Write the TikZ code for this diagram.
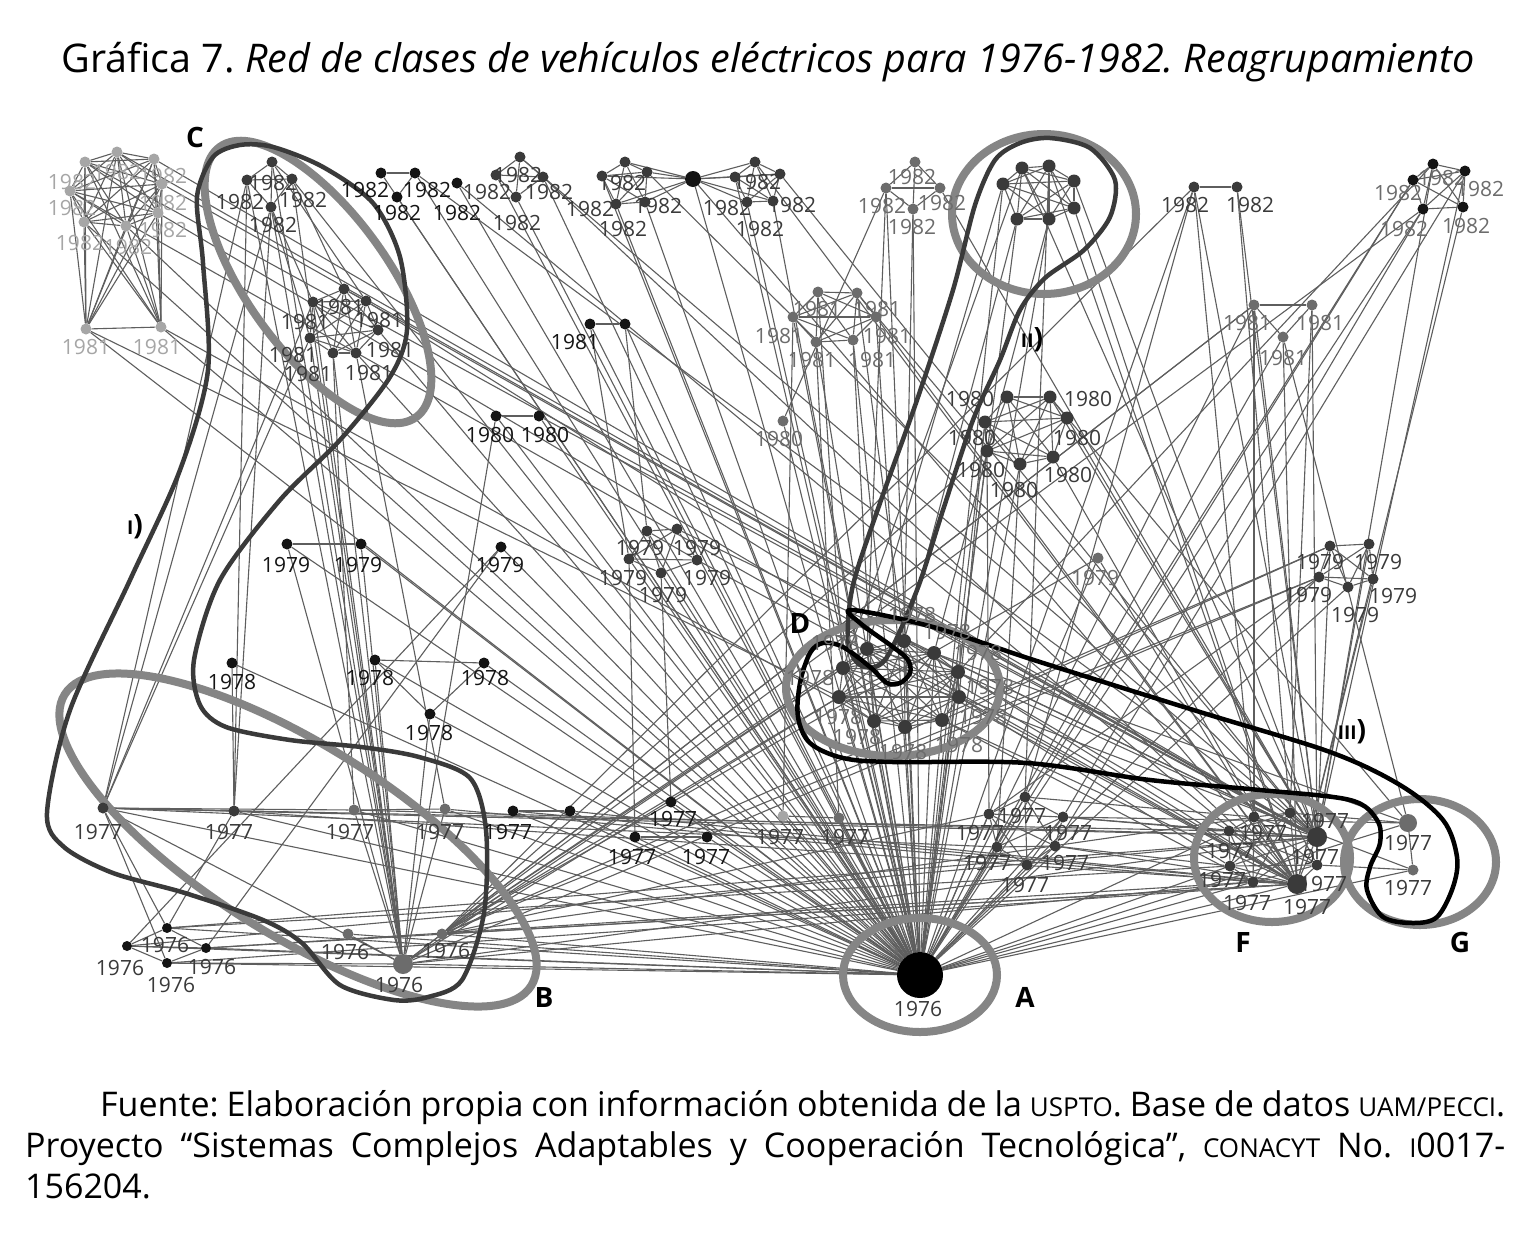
\documentclass[tikz,border=0pt]{standalone}
\usepackage{fontspec}
\setmainfont{Open Sans}
\usepackage{tikz}
\frenchspacing

\definecolor{cblk}{HTML}{141414}
\definecolor{cdrk}{HTML}{3a3a3a}
\definecolor{cmid}{HTML}{6c6c6c}
\definecolor{clgt}{HTML}{a6a6a6}
\definecolor{cedge}{HTML}{5e5e5e}
\definecolor{cring}{HTML}{858585}

\pgfdeclarelayer{edges}
\pgfdeclarelayer{rings}
\pgfsetlayers{edges,rings,main}

\newcommand\labfont{\fontsize{21}{21}\selectfont}
\newcommand\sca[1]{{\fontsize{26}{26}\selectfont #1}}
\newcommand\clique[2]{\foreach \i in {1,...,#2}{\foreach \j in {1,...,#2}{\ifnum\i<\j\relax\draw[edge] (#1\i) -- (#1\j);\fi}}}

\begin{document}
\begin{tikzpicture}[x=1pt,y=-1pt,
  vtx/.style={circle,fill=#1,inner sep=0pt,minimum size=11pt},vtx/.default=cdrk,
  lab/.style={text=#1,font=\labfont,inner sep=0pt},lab/.default=cdrk,
  edge/.style={cedge,line width=1.1pt},
  ring/.style={cring,line width=8pt},
  hull/.style={line width=4.5pt,line join=round},
  tag/.style={font=\fontsize{28}{28}\selectfont\bfseries}]
\useasboundingbox (0,0) rectangle (1528,1235);

% title and source
\node (title) at (768,62) {\fontsize{39.5}{40}\selectfont Gráfica 7. \itshape Red de clases de vehículos eléctricos para 1976-1982. Reagrupamiento};
\node[anchor=north west,text width=1480pt,align=justify,inner sep=0pt,font=\fontsize{34}{41}\selectfont] (src) at (25,1090)
  {\hspace*{75pt}Fuente: Elaboración propia con información obtenida de la \sca{USPTO}. Base de datos \sca{UAM/PECCI}.\linebreak
   Proyecto “Sistemas Complejos Adaptables y Cooperación Tecnológica”, \sca{CONACYT} No. \sca{I}0017-\linebreak 156204.};

% 1982
\foreach \n/\px/\py/\qx/\qy in {tl1/117/152/117/172,tl2/85/162/72/182,tl3/154/159/163/176,tl4/70/191/72/208,tl5/162/184/163/203,tl6/84/222/80/243,tl7/158/213/163/230,tl8/126/226/128/247}
  {\node[vtx=clgt] (\n) at (\px,\py) {}; \node[lab=clgt] (\n-l) at (\qx,\qy) {1982};}
\foreach \n/\px/\py/\qx/\qy in {c1/272/162/273/183,c2/247/180/240/202,c3/292/179/303/200,c4/271/207/273/225,tw1/520/157/518/175,tw2/496/175/487/192,tw3/543/177/549/192,tw4/516/197/517/223,p1/625/162/622/183,p2/602/176/590/209,p3/647/172/658/206,p4/616/204/623/229,q1/755/162/757/182,q2/735/177/727/208,q3/780/174/792/205,q4/747/202/760/229,s1/1194/187/1185/205,s2/1237/187/1250/205}
  {\node[vtx=cdrk] (\n) at (\px,\py) {}; \node[lab=cdrk] (\n-l) at (\qx,\qy) {1982};}
\foreach \n/\px/\py/\qx/\qy in {t1/381/173/365/190,t2/415/173/427/190,t3/397/197/397/213,t4/457/183/457/213}
  {\node[vtx=cblk] (\n) at (\px,\py) {}; \node[lab=cblk] (\n-l) at (\qx,\qy) {1982};}
\foreach \n/\px/\py/\qx/\qy in {r1/915/162/912/177,r2/886/188/882/206,r3/940/188/942/203,r4/913/209/912/227}
  {\node[vtx=cmid] (\n) at (\px,\py) {}; \node[lab=cmid] (\n-l) at (\qx,\qy) {1982};}
\foreach \n/\px/\py/\qx/\qy in {u1/1433/164/1442/178,u2/1413/180/1398/193,u3/1465/171/1480/189,u4/1423/209/1404/229,u5/1463/207/1466/226}
  {\node[vtx=cblk] (\n) at (\px,\py) {}; \node[lab=cmid] (\n-l) at (\qx,\qy) {1982};}
\node[vtx=cdrk] (p5) at (645,202) {};
\node[vtx=cdrk] (q5) at (773,201) {};
\node[vtx=cblk,minimum size=16pt] (h) at (693,179) {};
\foreach \n/\px/\py in {k1/1022/168,k2/1049/166,k3/1003/184,k4/1074/181,k5/1074/208,k6/1017/219,k7/1049/219}
  {\node[vtx=cdrk,minimum size=13pt] (\n) at (\px,\py) {};}

% 1981
\foreach \n/\px/\py/\qx/\qy in {tl9/86/329/86/347,tl10/161/327/157/347}
  {\node[vtx=clgt] (\n) at (\px,\py) {}; \node[lab=clgt] (\n-l) at (\qx,\qy) {1981};}
\foreach \n/\px/\py/\qx/\qy in {ca1/344/289/340/307,ca2/313/302/305/322,ca3/366/301/379/320,ca4/378/330/390/350,ca5/310/338/293/355,ca6/333/353/308/374,ca7/356/353/369/373}
  {\node[vtx=cdrk] (\n) at (\px,\py) {}; \node[lab=cdrk] (\n-l) at (\qx,\qy) {1981};}
\foreach \n/\px/\py/\qx/\qy in {m1/818/292/817/309,m2/857/293/877/309,m3/793/317/779/336,m4/876/317/887/336,m5/816/342/812/360,m6/853/340/872/360,w1/1254/305/1247/323,w2/1312/305/1320/323,w3/1283/337/1283/358}
  {\node[vtx=cmid] (\n) at (\px,\py) {}; \node[lab=cmid] (\n-l) at (\qx,\qy) {1981};}
\node[vtx=cblk] (n1) at (590,324) {}; \node[lab=cblk] (n1-l) at (575,342) {1981};
\node[vtx=cblk] (n2) at (625,324) {};

% 1980
\foreach \n/\px/\py/\qx/\qy in {e1/496/416/490/435,e2/539/416/545/435}
  {\node[vtx=cblk] (\n) at (\px,\py) {}; \node[lab=cblk] (\n-l) at (\qx,\qy) {1980};}
\node[vtx=cmid] (e3) at (783,421) {}; \node[lab=cmid] (e3-l) at (779,439) {1980};
\foreach \n/\px/\py/\qx/\qy in {z1/1007/397/970/399,z2/1050/397/1088/399,z3/985/422/972/438,z4/1067/418/1077/438,z5/987/451/981/470,z6/1020/464/1014/490,z7/1053/457/1068/475}
  {\node[vtx=cdrk,minimum size=13pt] (\n) at (\px,\py) {}; \node[lab=cdrk] (\n-l) at (\qx,\qy) {1980};}

% 1979
\foreach \n/\px/\py/\qx/\qy in {y1/287/544/286/565,y2/361/544/358/565,y3/501/547/500/565}
  {\node[vtx=cblk] (\n) at (\px,\py) {}; \node[lab=cblk] (\n-l) at (\qx,\qy) {1979};}
\foreach \n/\px/\py/\qx/\qy in {x1/647/531/640/548,x2/677/529/697/548,x3/629/559/623/578,x4/697/560/707/578,x5/661/573/663/595,v1/1330/546/1320/562,v2/1369/544/1378/562,v3/1319/577/1308/595,v4/1373/579/1393/596,v5/1348/587/1355/615}
  {\node[vtx=cdrk] (\n) at (\px,\py) {}; \node[lab=cdrk] (\n-l) at (\qx,\qy) {1979};}
\node[vtx=cmid] (y4) at (1098,558) {}; \node[lab=cmid] (y4-l) at (1095,578) {1979};

% 1978
\foreach \n/\px/\py/\qx/\qy in {o1/232/663/232/682,o2/375/660/370/678,o3/484/663/485/678,o4/430/714/429/733}
  {\node[vtx=cblk] (\n) at (\px,\py) {}; \node[lab=cblk] (\n-l) at (\qx,\qy) {1978};}
\foreach \n/\px/\py/\qx/\qy in {dd1/867/649/835/643,dd2/904/641/912/615,dd3/934/653/947/632,dd4/958/672/978/653,dd5/959/697/990/687,dd6/942/720/983/717,dd7/905/727/903/752,dd8/874/721/857/737,dd9/839/697/838/717,dd10/843/668/810/678}
  {\node[vtx=cdrk,minimum size=14pt] (\n) at (\px,\py) {}; \node[lab=cmid] (\n-l) at (\qx,\qy) {1978};}
\node[lab=cmid] (ddx-l) at (959,745) {1978};

% 1977
\foreach \n/\px/\py/\qx/\qy in {a1/103/808/98/832,a2/234/811/229/832,b1/1025/797/1022/816,b2/989/814/980/833,b3/1063/817/1068/833,b4/997/847/987/863,b5/1055/846/1065/863,b6/1027/865/1025/885,f1/1254/817/1263/833,f2/1290/813/1325/821,f3/1229/831/1230/851,f5/1230/866/1222/880,f6/1317/865/1323/884,f7/1253/882/1247/903}
  {\node[vtx=cdrk] (\n) at (\px,\py) {}; \node[lab=cdrk] (\n-l) at (\qx,\qy) {1977};}
\node[vtx=cdrk,minimum size=20pt] (f4) at (1317,837) {}; \node[lab=cdrk] (f4-l) at (1315,857) {1977};
\node[vtx=cdrk,minimum size=20pt] (f8) at (1297,884) {}; \node[lab=cdrk] (f8-l) at (1307,907) {1977};
\foreach \n/\px/\py/\qx/\qy in {a5/513/811/508/832,a7/671/802/673/819,a8/635/837/632/857,a9/707/837/706/857}
  {\node[vtx=cblk] (\n) at (\px,\py) {}; \node[lab=cblk] (\n-l) at (\qx,\qy) {1977};}
\node[vtx=cblk] (a6) at (570,811) {};
\foreach \n/\px/\py/\qx/\qy in {a3/354/810/350/832,a4/445/809/440/832,a11/839/818/845/837,g2/1413/870/1408/888}
  {\node[vtx=cmid] (\n) at (\px,\py) {}; \node[lab=cdrk] (\n-l) at (\qx,\qy) {1977};}
\node[vtx=clgt] (a10) at (783,816) {}; \node[lab=cdrk] (a10-l) at (780,837) {1977};
\node[vtx=cmid,minimum size=18pt] (g1) at (1408,823) {}; \node[lab=cdrk] (g1-l) at (1408,843) {1977};

% 1976
\foreach \n/\px/\py/\qx/\qy in {j1/167/928/165/945,j2/127/946/120/968,j3/206/948/212/967,j4/167/963/171/985}
  {\node[vtx=cblk,minimum size=10pt] (\n) at (\px,\py) {}; \node[lab=cdrk] (\n-l) at (\qx,\qy) {1976};}
\node[vtx=cmid] (j5) at (348,934) {}; \node[lab=cdrk] (j5-l) at (345,952) {1976};
\node[vtx=cmid] (j6) at (442,934) {}; \node[lab=cdrk] (j6-l) at (446,951) {1976};
\node[vtx=cmid,minimum size=20pt] (hb) at (403,964) {}; \node[lab=cdrk] (hb-l) at (399,985) {1976};
\node[vtx=black,minimum size=46pt] (ha) at (920,975) {}; \node[lab=cdrk] (ha-l) at (918,1009) {1976};

% tags
\foreach \n/\px/\py/\t in {tagA/1025/997/A,tagB/544/997/B,tagC/195/137/C,tagD/800/623/D,tagF/1243/942/F,tagG/1460/942/G}
  {\node[tag] (\n) at (\px,\py) {\t};}
\node[tag] (tagI) at (135,527) {{\fontsize{19}{19}\selectfont I})};
\node[tag] (tagII) at (1032,340) {{\fontsize{19}{19}\selectfont II})};
\node[tag] (tagIII) at (1352,732) {{\fontsize{19}{19}\selectfont III})};

\begin{pgfonlayer}{edges}
\fill[white] (0,0) rectangle (1528,1235);
\clique{tl}{10} \clique{c}{4} \clique{ca}{7} \clique{tw}{4} \clique{p}{5} \clique{q}{5}
\clique{r}{4} \clique{k}{7} \clique{u}{5} \clique{m}{6} \clique{w}{3} \clique{z}{7}
\clique{x}{5} \clique{v}{5} \clique{dd}{10} \clique{b}{6} \clique{f}{8}
\foreach \i in {1,...,5} {\draw[edge] (h) -- (p\i); \draw[edge] (h) -- (q\i);}
\foreach \a/\b in {t1/t2,t2/t3,s1/s2,n1/n2,e1/e2,y1/y2,o2/o3,o2/o4,o3/o4,a1/a2,a3/a4,a5/a6,a8/a9,a10/a11,g1/g2,
  j1/j2,j1/j3,j2/j4,j3/j4,j2/j3,hb/j5,hb/j6}
  \draw[edge] (\a) -- (\b);
% hub A
\foreach \n in {tl6,tl8,tl9,tl10,c3,ca4,ca7,t1,t2,t3,t4,tw2,tw3,tw4,n1,n2,p2,p4,p5,h,q2,q4,q5,r2,r4,m3,m4,m5,m6,e3,
  k3,k6,k7,s1,u2,u4,w1,w3,e1,e2,z3,z5,z6,y1,y2,y3,x1,x3,x5,y4,v3,v5,o1,o2,o3,o4,
  dd1,dd2,dd3,dd4,dd5,dd6,dd7,dd8,dd9,dd10,a1,a2,a3,a4,a5,a6,a7,a8,a9,a10,a11,
  b1,b2,b3,b4,b5,b6,f3,f5,f7,f8,g1,g2,j1,j2,j3,j4,j5,hb,j6}
  \draw[edge] (ha) -- (\n);
% group F
\foreach \n in {tl1,tl2,tl3,tl5,ca1,t2,tw1,p3,q3,r3,k1,k4,s1,s2,u1,u3,w1,w2,m2,z2,z4,v1,v2,dd3,dd4,a1,a3,b3,j1,j2,hb,e2,x2}
  \draw[edge] (f4) -- (\n);
\foreach \n in {tl4,tl7,ca3,t4,tw3,q1,h,k2,k5,u5,w3,m4,z7,y4,v4,dd5,dd6,a2,a5,a6,b5,j3,j4,j6,x4}
  \draw[edge] (f8) -- (\n);
% group B
\foreach \n in {c1,c2,c3,c4,ca2,ca5,ca6,a1,a3,a4,y1,y2,o2,o4,e1,j4,dd9,dd10,v3,w1}
  \draw[edge] (hb) -- (\n);
\foreach \n in {dd9,dd10,dd1,v1,v3,w1,z5,u4,s1,b2,y4,f1}
  \draw[edge] (j6) -- (\n);
\foreach \a/\b in {a1/c2,a1/c4,a1/ca2,a1/ca5,a1/j1,a1/j4,a1/a3,a1/f3,a1/b4,a2/c2,a2/c4,a2/o1,a2/j1,a3/ca6,a4/ca7,
  y3/j2,y3/j3,n1/x3,n2/x1,x5/a7,x3/a8,r2/e3,r2/dd1,r4/dd2,m1/dd10,m2/dd2,m3/a10,m5/a11,m6/dd8,
  k3/dd1,k6/dd2,k7/dd3,k1/dd10,k2/b1,z3/dd5,z5/b2,z6/b4,z2/g1,u2/b1,u4/b3,u1/dd4,u3/b5,v1/dd6,v3/b2,
  w1/f1,w3/g1,w2/f2,s1/f1,s2/f2,s1/b1,dd4/f3,dd5/f5,dd6/f7,dd3/g1,dd5/g2,b3/f3,b5/f5,b1/f1,
  j1/f5,j3/f7,hb/f7,a4/f7,f2/g1,f6/g2,b3/g1,c1/ca3,c3/ca1,c4/ca2,c4/ca5,tl9/dd9,tl10/dd8}
  \draw[edge] (\a) -- (\b);
\end{pgfonlayer}

\begin{pgfonlayer}{rings}
\draw[ring] (920,975) ellipse [x radius=77,y radius=57];
\draw[ring,rotate around={-32:(298,840)}] (298,840) ellipse [x radius=275,y radius=95];
\draw[ring,rotate around={-54:(318,282)}] (318,282) ellipse [x radius=167,y radius=70];
\draw[ring] (893,688) ellipse [x radius=107,y radius=68];
\draw[ring] (1272,858) ellipse [x radius=78,y radius=64];
\draw[ring] (1420,862) ellipse [x radius=76,y radius=63];
\draw[ring] (1044,214) ellipse [x radius=92,y radius=80];
% I
\draw[hull,cdrk] plot[smooth cycle] coordinates {(240,145) (273,147) (323,167) (373,203) (400,257) (407,330) (390,377)
  (340,440) (280,500) (220,580) (194,660) (200,705) (226,727) (290,740) (361,747) (419,757) (470,778) (486,830)
  (484,913) (462,980) (428,997) (394,1000) (340,985) (302,943) (263,920) (185,893) (113,873) (64,847) (47,813)
  (70,710) (130,580) (180,470) (208,370) (203,263) (197,197) (213,157)};
% II
\draw[hull,cdrk] plot[smooth cycle] coordinates {(848,640) (853,585) (880,503) (917,400) (953,290) (975,205) (995,160)
  (1020,143) (1050,138) (1090,148) (1115,180) (1110,217) (1084,250) (1045,278) (1020,310) (1000,360) (973,420)
  (943,510) (917,590) (885,660) (860,665)};
% III
\draw[hull,black] plot[smooth cycle,tension=0.55] coordinates {(852,610) (933,627) (1040,662) (1200,712) (1330,752)
  (1400,785) (1443,820) (1457,857) (1453,887) (1437,917) (1413,923) (1383,917) (1367,890) (1370,867) (1380,843)
  (1377,820) (1350,800) (1260,790) (1150,780) (1027,763) (893,762) (843,758) (810,743) (798,717) (800,683)
  (810,653) (823,643) (843,647) (870,667) (887,683) (900,683) (910,673) (908,660) (893,647) (860,623)};
\end{pgfonlayer}
\end{tikzpicture}
\end{document}
